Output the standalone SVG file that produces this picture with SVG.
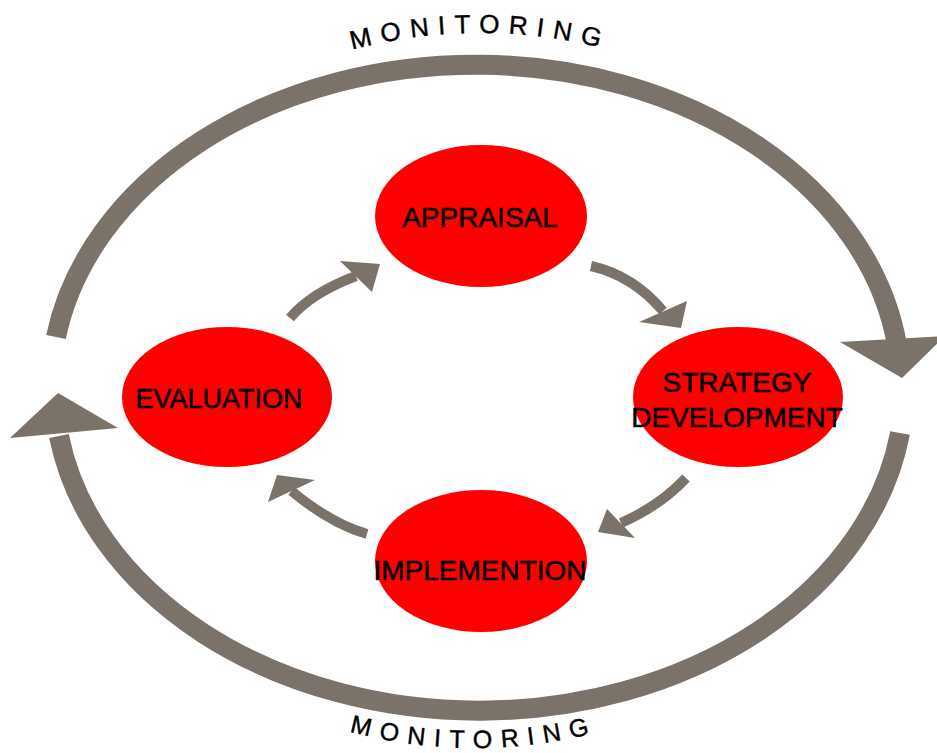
<svg xmlns="http://www.w3.org/2000/svg" width="937" height="753" viewBox="0 0 937 753">
  <style>
    .ring { fill: none; stroke: #7b726a; stroke-width: 20; }
    .shaft { fill: none; stroke: #7b726a; stroke-width: 10; }
    .head { fill: #7b726a; }
    .node { fill: #ff0000; }
    .label { font-family: "Liberation Sans", Arial, sans-serif; font-size: 28px; fill: #000; stroke: #000; stroke-width: 0.5; text-anchor: middle; }
    .mon { font-family: "Liberation Sans", Arial, sans-serif; font-size: 26px; fill: #000; stroke: #000; stroke-width: 0.4; letter-spacing: 9px; }
  </style>
  <defs>
    <path id="topArc" d="M 60,385 A 420 352 0 0 1 900,385"/>
    <path id="botArc" d="M 54,385 A 420 363 0 0 0 894,385"/>
  </defs>
  <rect width="937" height="753" fill="#ffffff"/>

  <g id="connectors">
    <path class="ring" d="M 56,337 A 425 323 0 0 1 897,345"/>
    <polygon class="head" points="840,342 945,336 902,378"/>
    <path class="ring" d="M 900,433 A 425 323 0 0 1 59,436"/>
    <polygon class="head" points="10,438 118,428 58,393"/>

    <path class="shaft" d="M 290,318 Q 311,293 356,276"/>
    <polygon class="head" points="340,261 380,264 372,292"/>
    <path class="shaft" d="M 591,266 Q 633,275.5 663,311"/>
    <polygon class="head" points="639,322 687,301 681,328"/>
    <path class="shaft" d="M 686,478 Q 660.5,505.5 621,523"/>
    <polygon class="head" points="607,509 635,538 598,532"/>
    <path class="shaft" d="M 367,534 Q 330.75,523.5 291.5,491"/>
    <polygon class="head" points="315,480 268,502 277,475"/>
  </g>

  <g id="monitoring-top">
    <text class="mon"><textPath href="#topArc" startOffset="50%" text-anchor="middle">MONITORING</textPath></text>
  </g>
  <g id="monitoring-bottom">
    <text class="mon" style="font-size:25px"><textPath href="#botArc" startOffset="50%" text-anchor="middle">MONITORING</textPath></text>
  </g>

  <g id="appraisal">
    <ellipse class="node" cx="481" cy="216" rx="106" ry="71"/>
    <text class="label" x="480" y="227">APPRAISAL</text>
  </g>
  <g id="strategy-development">
    <ellipse class="node" cx="738" cy="397" rx="105" ry="70"/>
    <text class="label" x="737" y="392">STRATEGY</text>
    <text class="label" x="737" y="427">DEVELOPMENT</text>
  </g>
  <g id="implemention">
    <ellipse class="node" cx="481" cy="561" rx="106" ry="71"/>
    <text class="label" x="480" y="580">IMPLEMENTION</text>
  </g>
  <g id="evaluation">
    <ellipse class="node" cx="227" cy="397" rx="105" ry="70"/>
    <text class="label" x="219" y="408" style="font-size:27px">EVALUATION</text>
  </g>
</svg>
